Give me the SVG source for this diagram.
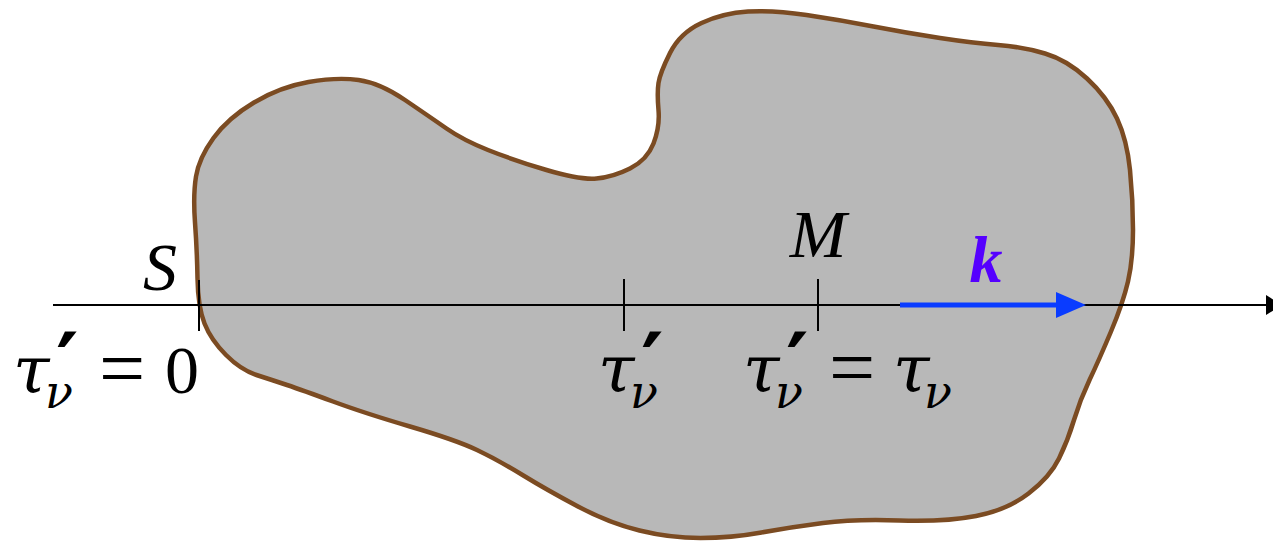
<svg xmlns="http://www.w3.org/2000/svg" width="1273" height="544" viewBox="0 0 1273 544">
<style>
.blob{fill:#b8b8b8;stroke:#7b4b22;stroke-width:4.5;stroke-linejoin:round}
.axis{stroke:#000;stroke-width:2.2;fill:none}
.tick{stroke:#000;stroke-width:2;fill:none}
.kvec{stroke:#0a3cff;stroke-width:5;fill:none}
.m{font-family:"Liberation Serif","Times New Roman",serif;font-size:68px;fill:#000}
.it{font-style:italic}
.g{font-family:"DejaVu Serif",serif;font-style:italic;font-size:66px}
.sub{font-family:"DejaVu Serif",serif;font-size:46px;font-style:italic}
.pr{font-family:"DejaVu Sans",sans-serif;font-weight:bold;font-size:86px}
.eq{font-family:"Liberation Serif",serif;font-size:82px}
.k{font-family:"Liberation Serif","Times New Roman",serif;font-size:66px;font-style:italic;font-weight:bold;fill:#5500ff}
</style>
<defs>
<marker id="ahBlack" markerUnits="userSpaceOnUse" markerWidth="20" markerHeight="22" refX="0" refY="10" orient="auto"><path d="M0,0 L16,10 L0,20 z" fill="#000"/></marker>
<marker id="ahBlue" markerUnits="userSpaceOnUse" markerWidth="32" markerHeight="28" refX="0" refY="13" orient="auto"><path d="M0,0 L30,13 L0,26 z" fill="#0a3cff"/></marker>
</defs>
<g id="medium">
<path class="blob" d="M204.5,323.5 Q198,307 197.5,278.5 Q197,250 195,222.5 Q193,195 196,176.5 Q199,158 213.5,138 Q228,118 254,102.5 Q280,87 308.5,82 Q337,77 358.5,80 Q380,83 405,100 Q430,117 446.5,128.5 Q463,140 488,150 Q513,160 546.5,170 Q580,180 596.5,178.5 Q613,177 630,168.5 Q647,160 653.5,143.5 Q660,127 658.5,110 Q657,93 658.5,83 Q660,73 670,53 Q680,33 701.5,23 Q723,13 748,11.5 Q773,10 806.5,15 Q840,20 873.5,26.5 Q907,33 940,38 Q973,43 998,45 Q1023,47 1045,53.5 Q1067,60 1087,78.5 Q1107,97 1117,118.5 Q1127,140 1130,170 Q1133,200 1133,230 Q1133,260 1128,281.5 Q1123,303 1111,331.5 Q1099,360 1089.5,380 Q1080,400 1074,420 Q1068,440 1059,458.5 Q1050,477 1028.5,493.5 Q1007,510 976,516 Q945,522 899.5,520.5 Q854,519 823,523 Q792,527 761.5,532.5 Q731,538 700.5,538 Q670,538 639.5,530.5 Q609,523 578,506.5 Q547,490 522.5,475 Q498,460 477,450 Q456,440 410,426.5 Q364,413 333,401.5 Q302,390 287,385 Q272,380 256.5,375 Q241,370 226,355 Q211,340 204.5,323.5 Z"/>
</g>
<g id="connectors">
<line id="ray" class="axis" x1="53" y1="305" x2="1266" y2="305" marker-end="url(#ahBlack)"/>
<line id="k-vector" class="kvec" x1="900" y1="305" x2="1056" y2="305" marker-end="url(#ahBlue)"/>
</g>
<g id="point-S">
<line class="tick" x1="199" y1="280" x2="199" y2="331"/>
<text class="m it" x="160" y="290" text-anchor="middle">S</text>
<text class="m"><tspan class="g" x="13" y="393">τ</tspan><tspan class="pr" x="56" y="394">′</tspan><tspan class="sub" x="45" y="408">ν</tspan><tspan class="eq" x="99" y="396">=</tspan><tspan x="165" y="393">0</tspan></text>
</g>
<g id="point-tau">
<line class="tick" x1="624" y1="279" x2="624" y2="331"/>
<text class="m"><tspan class="g" x="598" y="392">τ</tspan><tspan class="pr" x="641" y="394">′</tspan><tspan class="sub" x="630" y="408">ν</tspan></text>
</g>
<g id="point-M">
<line class="tick" x1="818" y1="279" x2="818" y2="331"/>
<text class="m it" x="818" y="257" text-anchor="middle">M</text>
<text class="m"><tspan class="g" x="743" y="392">τ</tspan><tspan class="pr" x="786" y="394">′</tspan><tspan class="sub" x="775" y="408">ν</tspan><tspan class="eq" x="829" y="395">=</tspan><tspan class="g" x="893" y="392">τ</tspan><tspan class="sub" x="924" y="408">ν</tspan></text>
</g>
<g id="label-k">
<text class="k" x="986" y="282" text-anchor="middle">k</text>
</g>
</svg>
